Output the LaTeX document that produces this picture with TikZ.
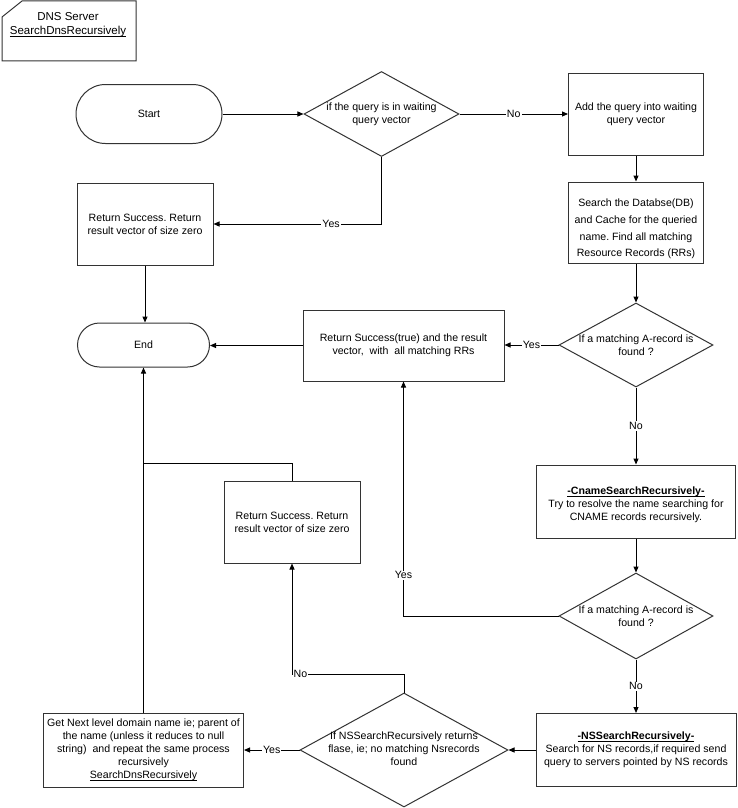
\documentclass[tikz,border=0pt]{standalone}
\usepackage{fontspec}
\setmainfont{Liberation Sans}
\usetikzlibrary{arrows.meta,shapes.geometric,calc}
\newcommand{\myul}[1]{\underline{\smash{#1}}\vphantom{#1}}
\frenchspacing
\begin{document}
\frenchspacing
\begin{tikzpicture}[x=1pt,y=-1pt,
  every node/.style={font=\fontsize{10.6}{13}\selectfont},
  box/.style={draw=black!80, line width=1pt, rectangle, inner sep=0pt, align=center},
  term/.style={draw=black!80, line width=1pt, rectangle, rounded corners=#1, inner sep=0pt},
  dia/.style={draw=black!80, line width=1pt, diamond, inner sep=0pt},
  txt/.style={align=center, inner sep=0pt},
  conn/.style={draw=black, line width=1pt, -{Triangle[length=6pt,width=5pt]}},
  plainline/.style={draw=black, line width=1pt},
  lbl/.style={fill=white, inner sep=1pt}
]
\fill[white] (0,0) rectangle (737,808);
\useasboundingbox (0,0) rectangle (737,808);

% title label
\draw[black!80, line width=1pt] (2,17) -- (22,1) -- (136,1) -- (136,61) -- (2,61) -- cycle;
\node[txt, font=\fontsize{11.5}{14}\selectfont, anchor=base] (lab1) at (68,21) {DNS Server};
\node[txt, font=\fontsize{11.5}{14}\selectfont, anchor=base] (lab2) at (68,35) {\myul{SearchDnsRecursively}};

% nodes
\node[term=29.5pt, minimum width=146pt, minimum height=59pt] (start) at (149,114) {Start};
\node[dia, minimum width=155pt, minimum height=85pt] (d1) at (381.5,114) {};
\node[txt] (d1t) at (381.5,114.5) {if the query is in waiting\\query vector};
\node[box, minimum width=135pt, minimum height=82pt] (add) at (636,114) {Add the query into waiting\\query vector};
\node[box, minimum width=135pt, minimum height=81pt] (search) at (636,222.5) {};
\node[txt, font=\fontsize{10.6}{16.7}\selectfont] (searcht) at (636,229) {Search the Databse(DB)\\and Cache for the queried\\name. Find all matching\\Resource Records (RRs)};
\node[box, minimum width=136pt, minimum height=82pt] (rets1) at (145,224) {Return Success. Return\\result vector of size zero};
\node[term=22pt, minimum width=132pt, minimum height=44pt] (end) at (143.5,345) {End};
\node[box, minimum width=201pt, minimum height=71pt] (rettrue) at (403.5,345.5) {Return Success(true) and the result\\vector,\ \ with\ \ all matching RRs};
\node[dia, minimum width=154pt, minimum height=84pt] (d2) at (636,345) {};
\node[txt] (d2t) at (636,345) {If a matching A-record is\\found ?};
\node[box, minimum width=199pt, minimum height=73pt] (cname) at (636,501.5) {};
\node[txt] (cnamet) at (636,505) {\textbf{\myul{-CnameSearchRecursively-}}\\Try to resolve the name searching for\\CNAME records recursively.};
\node[dia, minimum width=154pt, minimum height=86pt] (d4) at (636,616) {};
\node[txt] (d4t) at (636,616.5) {If a matching A-record is\\found ?};
\node[box, minimum width=200pt, minimum height=73pt] (ns) at (636,750) {\textbf{\myul{-NSSearchRecursively-}}\\Search for NS records,if required send\\query to servers pointed by NS records};
\node[dia, minimum width=208pt, minimum height=114pt] (d3) at (404,750) {};
\node[txt] (d3t) at (404,749) {If NSSearchRecursively returns\\flase, ie; no matching Nsrecords\\found};
\node[box, minimum width=136pt, minimum height=82pt] (rets2) at (292,522) {Return Success. Return\\result vector of size zero};
\node[box, minimum width=200pt, minimum height=74pt] (getnext) at (143.5,750) {Get Next level domain name ie; parent of\\the name (unless it reduces to null\\string)\ \ and repeat the same process\\recursively\\\myul{SearchDnsRecursively}};

% connectors
\draw[conn] (start) -- (d1);
\draw[conn] (d1) -- node[lbl]{No} (add);
\draw[conn] (add) -- (search);
\draw[conn] (search) -- (d2);
\draw[conn] (d1.south) |- node[lbl,pos=0.65]{Yes} (rets1.east);
\draw[conn] (rets1.south) -- (rets1.south |- end.north);
\draw[conn] (rettrue.west) -- (rettrue.west -| end.east);
\draw[conn] (d2.west) -- node[lbl]{Yes} (d2.west -| rettrue.east);
\draw[conn] (d2.south) -- node[lbl]{No} (cname.north);
\draw[conn] (cname.south) -- (d4.north);
\draw[conn] (d4.west) -| node[lbl,pos=0.587]{Yes} (rettrue.south);
\draw[conn] (d4.south) -- node[lbl]{No} (ns.north);
\draw[conn] (ns.west) -- (d3.east);
\draw[conn] (d3.west) -- node[lbl]{Yes} (getnext.east);
\coordinate (c3) at (292,674);
\draw[conn] (d3.north) |- (c3) -- (rets2.south);
\node[lbl, anchor=west, inner sep=0.5pt] (no3) at (293,674) {No};
\coordinate (j1) at (143.5,463);
\draw[plainline] (rets2.north) |- (j1);
\draw[conn] (getnext.north) -- (end.south);
\end{tikzpicture}
\end{document}
